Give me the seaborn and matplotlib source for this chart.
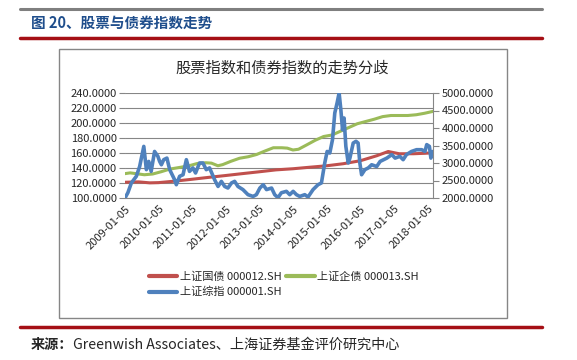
import pandas as pd
import numpy as np
import matplotlib.pyplot as plt
from matplotlib.patches import Rectangle
from matplotlib.lines import Line2D
import seaborn as sns

sns.set_style("white")
plt.rcParams['font.family'] = ['Noto Sans CJK SC', 'DejaVu Sans']
plt.rcParams['axes.unicode_minus'] = False

# 上证国债 000012.SH (left axis)
gz_dates = ['2009-01-05', '2009-06-01', '2009-10-01', '2010-01-04', '2010-07-01', '2011-01-04',
            '2011-07-01', '2012-01-04', '2012-07-02', '2013-01-04', '2013-07-01', '2014-01-02',
            '2014-07-01', '2015-01-05', '2015-07-01', '2016-01-04', '2016-07-01', '2016-11-01',
            '2017-03-01', '2017-08-01', '2017-12-01', '2018-03-02']
gz_values = [121.0, 121.5, 120.2, 120.5, 122.5, 125.0,
             127.5, 130.0, 132.5, 135.0, 137.5, 139.0,
             141.0, 143.0, 145.7, 149.7, 156.4, 162.0,
             159.0, 159.0, 159.6, 160.3]

# 上证企债 000013.SH (left axis)
qz_dates = ['2009-01-05', '2009-03-02', '2009-05-04', '2009-08-03', '2009-11-02', '2010-02-01',
            '2010-05-04', '2010-09-01', '2010-12-01', '2011-03-01', '2011-06-01', '2011-08-01',
            '2011-10-10', '2011-12-01', '2012-03-01', '2012-06-01', '2012-09-03', '2012-12-03',
            '2013-03-01', '2013-06-03', '2013-09-02', '2013-11-01', '2014-01-02', '2014-03-03',
            '2014-06-03', '2014-09-01', '2014-12-01', '2015-03-02', '2015-06-01', '2015-09-01',
            '2015-12-01', '2016-03-01', '2016-06-01', '2016-09-01', '2016-12-01', '2017-03-01',
            '2017-06-01', '2017-09-01', '2017-12-01', '2018-03-02']
qz_values = [132.5, 133.5, 132.5, 131.0, 132.0, 135.0,
             138.5, 141.0, 143.0, 146.0, 147.0, 146.5,
             143.0, 144.5, 149.0, 153.0, 155.0, 158.0,
             162.5, 167.0, 167.0, 166.5, 164.0, 165.0,
             171.0, 177.0, 182.0, 184.0, 189.0, 194.0,
             199.0, 202.0, 205.0, 208.5, 210.0, 210.0,
             210.0, 211.0, 213.0, 215.5]

# 上证综指 000001.SH (right axis)
sz_dates = ['2009-01-05', '2009-02-05', '2009-03-15', '2009-05-08', '2009-06-13', '2009-07-28',
            '2009-08-25', '2009-09-20', '2009-10-16', '2009-11-22', '2009-12-28', '2010-01-16',
            '2010-02-04', '2010-03-01', '2010-04-05', '2010-05-05', '2010-06-28', '2010-07-16',
            '2010-08-21', '2010-09-27', '2010-11-02', '2010-12-06', '2011-01-12', '2011-02-10',
            '2011-03-25', '2011-05-01', '2011-06-06', '2011-07-12', '2011-09-05', '2011-10-12',
            '2011-11-17', '2011-12-23', '2012-01-27', '2012-03-06', '2012-04-09', '2012-05-15',
            '2012-07-08', '2012-09-01', '2012-10-26', '2012-12-01', '2013-01-08', '2013-02-13',
            '2013-03-21', '2013-05-15', '2013-06-18', '2013-07-24', '2013-08-29', '2013-10-23',
            '2013-11-28', '2014-01-04', '2014-02-09', '2014-03-17', '2014-05-10', '2014-06-15',
            '2014-08-08', '2014-10-01', '2014-11-07', '2014-12-13', '2015-01-08', '2015-02-06',
            '2015-03-07', '2015-04-01', '2015-04-26', '2015-05-18', '2015-06-06', '2015-06-24',
            '2015-07-11', '2015-07-30', '2015-08-25', '2015-09-12', '2015-10-18', '2015-11-17',
            '2015-12-10', '2015-12-29', '2016-01-17', '2016-02-22', '2016-03-30', '2016-05-05',
            '2016-06-29', '2016-08-05', '2016-10-17', '2016-12-10', '2017-01-15', '2017-03-07',
            '2017-04-12', '2017-05-18', '2017-07-12', '2017-09-05', '2017-10-30', '2017-12-05',
            '2017-12-24', '2018-01-22', '2018-02-07', '2018-02-28', '2018-03-02']
sz_values = [2000, 2150, 2430, 2620, 2900, 3475,
             2810, 3045, 2760, 3330, 3190, 3045,
             2950, 3095, 3140, 2810, 2520, 2380,
             2620, 2665, 3095, 2760, 2860, 2715,
             3000, 3000, 2810, 2860, 2520, 2330,
             2475, 2330, 2285, 2430, 2475, 2330,
             2240, 2095, 2045, 2095, 2285, 2380,
             2240, 2285, 2095, 2010, 2150, 2190,
             2095, 2190, 2095, 2045, 2095, 2030,
             2240, 2380, 2430, 3000, 3330, 3285,
             3665, 4430, 4715, 5000, 4520, 3950,
             4285, 3475, 3000, 3140, 3570, 3620,
             3570, 3000, 2665, 2810, 2860, 2950,
             2900, 3045, 3140, 3240, 3140, 3190,
             3095, 3240, 3330, 3380, 3380, 3330,
             3525, 3475, 3140, 3330, 3300]

tick_labels = ['2009-01-05', '2010-01-05', '2011-01-05', '2012-01-05', '2013-01-05',
               '2014-01-05', '2015-01-05', '2016-01-05', '2017-01-05', '2018-01-05']

c_red = '#C0504D'
c_green = '#9BBB59'
c_blue = '#4F81BD'
c_grid = '#868686'

W, H = 577, 360
fig = plt.figure(figsize=(W / 100, H / 100), dpi=100)

ax = fig.add_axes([125 / W, 1 - 198 / H, 308 / W, 105 / H])
ax2 = ax.twinx()

sns.lineplot(x=pd.to_datetime(gz_dates), y=gz_values, ax=ax, color=c_red, linewidth=2.2, legend=False)
sns.lineplot(x=pd.to_datetime(qz_dates), y=qz_values, ax=ax, color=c_green, linewidth=2.2, legend=False)
sns.lineplot(x=pd.to_datetime(sz_dates), y=sz_values, ax=ax2, color=c_blue, linewidth=2.6, legend=False)

ax.set_xlim(pd.Timestamp('2009-01-05'), pd.Timestamp('2018-03-02'))
ax.set_ylim(100, 240)
ax2.set_ylim(2000, 5000)

ax.set_yticks(np.arange(100, 241, 20))
ax.set_yticklabels([f'{v:.4f}' for v in np.arange(100, 241, 20)], fontsize=8)
ax2.set_yticks(np.arange(2000, 5001, 500))
ax2.set_yticklabels([f'{v:.4f}' for v in np.arange(2000, 5001, 500)], fontsize=8)

ax.set_xticks(pd.to_datetime(tick_labels))
ax.set_xticklabels(tick_labels, rotation=45, ha='right', rotation_mode='anchor', fontsize=8)

ax.grid(axis='y', color=c_grid, linewidth=0.8)
ax.grid(axis='x', visible=False)
ax.set_xlabel('')
ax.set_ylabel('')
ax2.set_ylabel('')

for s in ['left', 'top', 'right']:
    ax.spines[s].set_visible(False)
ax.spines['bottom'].set_color(c_grid)
for s in ['left', 'top', 'bottom']:
    ax2.spines[s].set_visible(False)
ax2.spines['right'].set_color(c_grid)

ax.tick_params(axis='y', length=4, color=c_grid, pad=2)
ax.tick_params(axis='x', length=0, pad=4)
ax2.tick_params(axis='y', length=4, color=c_grid, pad=2, direction='out')

# chart frame
fig.add_artist(Rectangle((59 / W, 1 - 318 / H), 448 / W, 269 / H, transform=fig.transFigure,
                         fill=False, edgecolor=c_grid, linewidth=1))

# header and footer rules
fig.add_artist(Line2D([20 / W, 542 / W], [1 - 9 / H] * 2, color='#7F7F7F', linewidth=2.2))
fig.add_artist(Line2D([20 / W, 542 / W], [1 - 38 / H] * 2, color='#A50F15', linewidth=2.5))
fig.add_artist(Line2D([20 / W, 542 / W], [1 - 327 / H] * 2, color='#A50F15', linewidth=2.5))

fig.text(31 / W, 1 - 23 / H, '图 20、股票与债券指数走势', color='#1F4E8C', fontsize=10.5,
         fontweight='bold', va='center', ha='left')
fig.text(282 / W, 1 - 68 / H, '股票指数和债券指数的走势分歧', fontsize=11, va='center', ha='center')

# source line: bold prefix, then the rest right after it
src1 = fig.text(31 / W, 1 - 345 / H, '来源：', fontsize=10.2, fontweight='bold', va='center', ha='left')
fig.canvas.draw()
bb = src1.get_window_extent()
fig.text(bb.x1 / W, 1 - 345 / H, 'Greenwish Associates、上海证券基金评价研究中心', fontsize=10.2,
         va='center', ha='left')

handles = [Line2D([], [], color=c_red, linewidth=3),
           Line2D([], [], color=c_blue, linewidth=3),
           Line2D([], [], color=c_green, linewidth=3)]
labels = ['上证国债 000012.SH', '上证综指 000001.SH', '上证企债 000013.SH']
fig.legend(handles, labels, loc='upper left', bbox_to_anchor=(143 / W, 1 - 266 / H), ncol=2,
           frameon=False, fontsize=8, handlelength=2.6, handletextpad=0.2, columnspacing=0.4,
           labelspacing=0.45, borderpad=0)

fig.savefig('out.png', dpi=100)
